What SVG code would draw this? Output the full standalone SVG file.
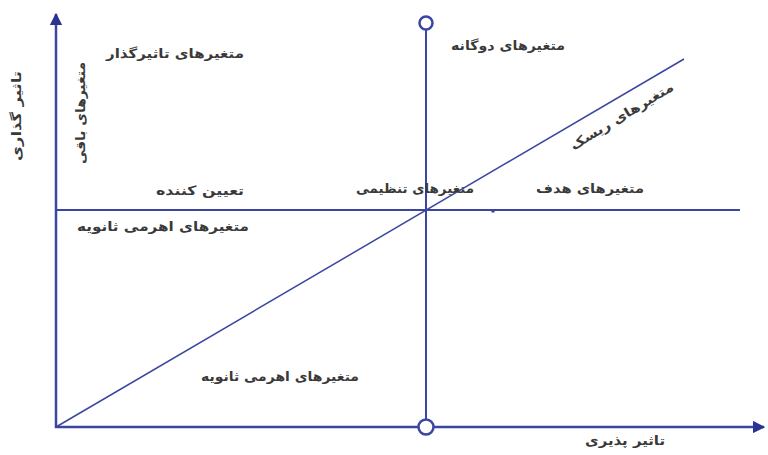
<svg xmlns="http://www.w3.org/2000/svg" width="768" height="455" viewBox="0 0 768 455">
<defs>
<style>
.ax{stroke:#3b46a0;stroke-width:2.5;fill:none}
.ln{stroke:#3b46a0;stroke-width:2;fill:none}
.dg{stroke:#3b46a0;stroke-width:1.5;fill:none}
.node{fill:#fff;stroke:#3b46a0;stroke-width:2.5}
text{font-family:"DejaVu Sans","Noto Sans",sans-serif;font-size:13px;font-weight:bold;fill:#3a3a3a;text-anchor:middle;direction:rtl}
</style>
<marker id="arr" viewBox="0 0 10 10" refX="9" refY="5" markerWidth="5" markerHeight="5" orient="auto" markerUnits="strokeWidth">
<path d="M0,0 L10,5 L0,10 z" fill="#2a3490"/>
</marker>
</defs>
<rect width="768" height="455" fill="#fff"/>
<g id="connectors">
<line class="ax" x1="56" y1="428" x2="56" y2="14" marker-end="url(#arr)"/>
<line class="ax" x1="55" y1="427" x2="764" y2="427" marker-end="url(#arr)"/>
<line class="ln" x1="426" y1="30" x2="426" y2="420"/>
<line class="ln" x1="56" y1="210" x2="740" y2="210"/>
<line class="dg" x1="56" y1="427" x2="684" y2="59"/>
<circle cx="493" cy="211" r="1.8" fill="#3b46a0"/>
</g>
<g id="node-top"><circle class="node" cx="426" cy="23" r="6.5"/></g>
<g id="node-bottom"><circle class="node" cx="426" cy="427" r="7.5"/></g>
<g id="labels">
<text x="175" y="58" textLength="138" lengthAdjust="spacingAndGlyphs">متغیرهای تاثیرگذار</text>
<text transform="translate(85,113) rotate(-90)" textLength="102" lengthAdjust="spacingAndGlyphs">متغیرهای باقی</text>
<text transform="translate(21,116) rotate(-90)" textLength="90" lengthAdjust="spacingAndGlyphs">تاثیر گذاری</text>
<text x="200" y="195" textLength="88" lengthAdjust="spacingAndGlyphs">تعیین کننده</text>
<text x="163" y="231" textLength="172" lengthAdjust="spacingAndGlyphs">متغیرهای اهرمی ثانویه</text>
<text x="508" y="50" textLength="114" lengthAdjust="spacingAndGlyphs">متغیرهای دوگانه</text>
<text transform="translate(624,120) rotate(-31)" textLength="118" lengthAdjust="spacingAndGlyphs">متغیرهای ریسک</text>
<text x="415" y="193" textLength="118" lengthAdjust="spacingAndGlyphs">متغیرهای تنظیمی</text>
<text x="590" y="193" textLength="108" lengthAdjust="spacingAndGlyphs">متغیرهای هدف</text>
<text x="280" y="381" textLength="158" lengthAdjust="spacingAndGlyphs">متغیرهای اهرمی ثانویه</text>
<text x="625" y="445" textLength="80" lengthAdjust="spacingAndGlyphs">تاثیر پذیری</text>
</g>
</svg>
